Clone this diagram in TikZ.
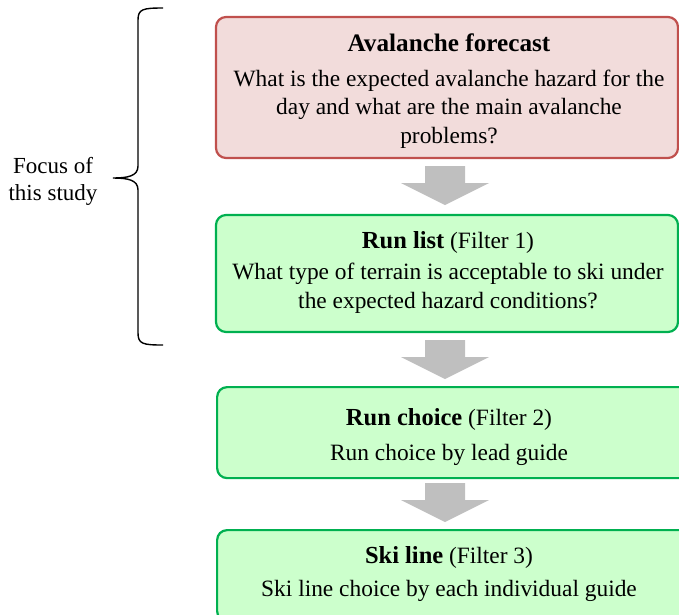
\documentclass[tikz,border=0pt]{standalone}
\usepackage{fontspec}
\setmainfont{Liberation Serif}
\definecolor{redfill}{HTML}{F2DCDB}
\definecolor{redline}{HTML}{C0504D}
\definecolor{greenfill}{HTML}{CCFFCC}
\definecolor{greenline}{HTML}{00B050}
\definecolor{arrowgray}{HTML}{BFBFBF}
\newcommand{\ttl}[1]{{\fontsize{24.5}{28.5}\selectfont\textbf{#1}}}
\newcommand{\blockarrowat}[1]{%
  \fill[arrowgray] ($(#1)+(-20,0)$) -- ($(#1)+(20,0)$) -- ($(#1)+(20,17)$) -- ($(#1)+(44,17)$)
    -- ($(#1)+(0,39)$) -- ($(#1)+(-44,17)$) -- ($(#1)+(-20,17)$) -- cycle;}
\usetikzlibrary{calc}
\tikzset{
  box/.style={draw, line width=2.2pt, rounded corners=10pt, inner sep=0pt},
  redbox/.style={box, draw=redline, fill=redfill},
  greenbox/.style={box, draw=greenline, fill=greenfill},
  boxtext/.style={align=center, inner sep=0pt, font=\fontsize{23.4}{28.5}\selectfont},
}
\begin{document}
\begin{tikzpicture}[x=1pt,y=-1pt]
\useasboundingbox (0,0) rectangle (679,614);
\clip (0,0) rectangle (679,614);
\node[redbox, minimum width=462pt, minimum height=141pt] (b1) at (447,87.5) {};
\node[boxtext] (t1) at (449,91)
  {{\fontsize{25.2}{28.5}\selectfont\textbf{Avalanche forecast}}\\[6pt]What is the expected avalanche hazard for the\\day and what are the main avalanche\\problems?};
\node[greenbox, minimum width=462pt, minimum height=117pt] (b2) at (447,273.5) {};
\node[boxtext] (t2) at (448,272)
  {\ttl{Run list} (Filter 1)\\[3pt]What type of terrain is acceptable to ski under\\the expected hazard conditions?};
\node[greenbox, minimum width=488pt, minimum height=91pt, anchor=north west] (b3) at (216,386) {};
\node[boxtext] (t3) at (449,437)
  {\ttl{Run choice} (Filter 2)\\[7pt]Run choice by lead guide};
\node[greenbox, minimum width=488pt, minimum height=91pt, anchor=north west] (b4) at (216,529) {};
\node[boxtext] (t4) at (449,574)
  {\ttl{Ski line} (Filter 3)\\[4pt]Ski line choice by each individual guide};
\coordinate (a1) at (445,166);
\coordinate (a2) at (445,340);
\coordinate (a3) at (445,483);
\blockarrowat{a1}
\blockarrowat{a2}
\blockarrowat{a3}
\node[align=center, font=\fontsize{23}{27}\selectfont] (focus) at (53,181) {Focus of\\this study};
\coordinate (bt) at (163,8);
\coordinate (bm) at (113,178);
\coordinate (bb) at (163,345);
\draw[line width=1.4pt] (bt) .. controls (143,8) and (138,9) .. (138,20)
  -- (138,166) .. controls (138,176) and (128,178) .. (bm)
  .. controls (128,178) and (138,180) .. (138,190)
  -- (138,333) .. controls (138,344) and (143,345) .. (bb);
\end{tikzpicture}
\end{document}
